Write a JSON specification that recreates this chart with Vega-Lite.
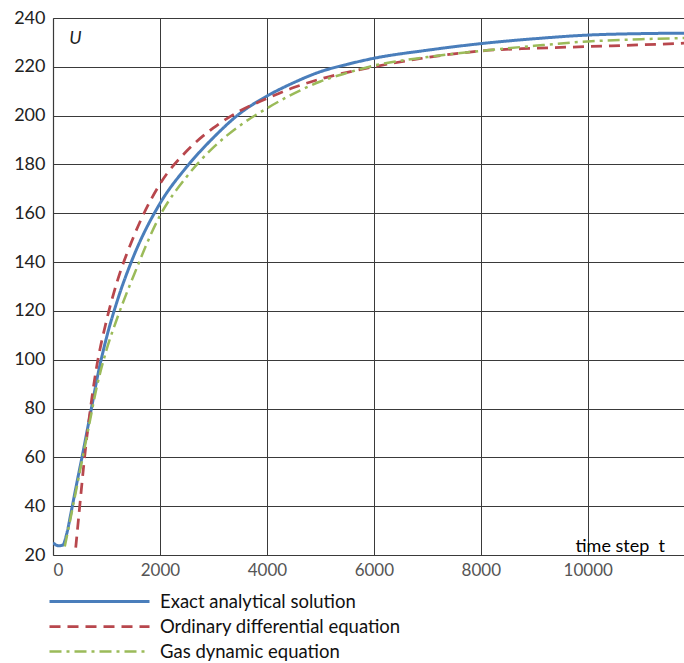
{
  "$schema": "https://vega.github.io/schema/vega-lite/v6.json",
  "width": 631,
  "height": 537,
  "autosize": {"type": "none"},
  "padding": {"left": 53, "top": 18, "right": 0, "bottom": 108},
  "background": "white",
  "config": {
    "view": {"stroke": null},
    "font": "Lato",
    "axis": {"gridColor": "#3a3a3a", "gridOpacity": 1, "gridWidth": 1, "ticks": false, "domainColor": "#3a3a3a", "domainWidth": 1.2},
    "legend": {"padding": 0}
  },
  "datasets": {
    "curves": [
      {"t": 0, "U": 25, "series": "Exact analytical solution"},
      {"t": 100, "U": 23.8, "series": "Exact analytical solution"},
      {"t": 180, "U": 24, "series": "Exact analytical solution"},
      {"t": 260, "U": 29, "series": "Exact analytical solution"},
      {"t": 343, "U": 38, "series": "Exact analytical solution"},
      {"t": 450, "U": 50, "series": "Exact analytical solution"},
      {"t": 560, "U": 62, "series": "Exact analytical solution"},
      {"t": 700, "U": 78, "series": "Exact analytical solution"},
      {"t": 850, "U": 95, "series": "Exact analytical solution"},
      {"t": 1000, "U": 109, "series": "Exact analytical solution"},
      {"t": 1200, "U": 124, "series": "Exact analytical solution"},
      {"t": 1500, "U": 142, "series": "Exact analytical solution"},
      {"t": 2000, "U": 164, "series": "Exact analytical solution"},
      {"t": 2500, "U": 179, "series": "Exact analytical solution"},
      {"t": 3000, "U": 191, "series": "Exact analytical solution"},
      {"t": 3500, "U": 201, "series": "Exact analytical solution"},
      {"t": 4000, "U": 208, "series": "Exact analytical solution"},
      {"t": 4500, "U": 213.5, "series": "Exact analytical solution"},
      {"t": 5000, "U": 218, "series": "Exact analytical solution"},
      {"t": 5500, "U": 221, "series": "Exact analytical solution"},
      {"t": 6000, "U": 223.5, "series": "Exact analytical solution"},
      {"t": 7000, "U": 226.8, "series": "Exact analytical solution"},
      {"t": 8000, "U": 229.5, "series": "Exact analytical solution"},
      {"t": 9000, "U": 231.5, "series": "Exact analytical solution"},
      {"t": 10000, "U": 233, "series": "Exact analytical solution"},
      {"t": 11000, "U": 233.6, "series": "Exact analytical solution"},
      {"t": 11800, "U": 233.8, "series": "Exact analytical solution"},

      {"t": 425, "U": 23, "series": "Ordinary differential equation"},
      {"t": 500, "U": 40, "series": "Ordinary differential equation"},
      {"t": 600, "U": 62, "series": "Ordinary differential equation"},
      {"t": 700, "U": 80, "series": "Ordinary differential equation"},
      {"t": 800, "U": 95, "series": "Ordinary differential equation"},
      {"t": 1000, "U": 116, "series": "Ordinary differential equation"},
      {"t": 1200, "U": 132, "series": "Ordinary differential equation"},
      {"t": 1500, "U": 150, "series": "Ordinary differential equation"},
      {"t": 2000, "U": 172, "series": "Ordinary differential equation"},
      {"t": 2500, "U": 185.5, "series": "Ordinary differential equation"},
      {"t": 3000, "U": 195, "series": "Ordinary differential equation"},
      {"t": 3500, "U": 202, "series": "Ordinary differential equation"},
      {"t": 4000, "U": 207, "series": "Ordinary differential equation"},
      {"t": 4500, "U": 211.5, "series": "Ordinary differential equation"},
      {"t": 5000, "U": 215, "series": "Ordinary differential equation"},
      {"t": 6000, "U": 220, "series": "Ordinary differential equation"},
      {"t": 7000, "U": 223.8, "series": "Ordinary differential equation"},
      {"t": 8000, "U": 226.5, "series": "Ordinary differential equation"},
      {"t": 9000, "U": 227.6, "series": "Ordinary differential equation"},
      {"t": 10000, "U": 228.3, "series": "Ordinary differential equation"},
      {"t": 11000, "U": 229, "series": "Ordinary differential equation"},
      {"t": 11800, "U": 229.7, "series": "Ordinary differential equation"},

      {"t": 220, "U": 23.5, "series": "Gas dynamic equation"},
      {"t": 300, "U": 32, "series": "Gas dynamic equation"},
      {"t": 400, "U": 43, "series": "Gas dynamic equation"},
      {"t": 500, "U": 54, "series": "Gas dynamic equation"},
      {"t": 600, "U": 65, "series": "Gas dynamic equation"},
      {"t": 700, "U": 76, "series": "Gas dynamic equation"},
      {"t": 800, "U": 87, "series": "Gas dynamic equation"},
      {"t": 1000, "U": 104, "series": "Gas dynamic equation"},
      {"t": 1200, "U": 117, "series": "Gas dynamic equation"},
      {"t": 1500, "U": 134, "series": "Gas dynamic equation"},
      {"t": 2000, "U": 159, "series": "Gas dynamic equation"},
      {"t": 2500, "U": 175, "series": "Gas dynamic equation"},
      {"t": 3000, "U": 187, "series": "Gas dynamic equation"},
      {"t": 3500, "U": 196, "series": "Gas dynamic equation"},
      {"t": 4000, "U": 203, "series": "Gas dynamic equation"},
      {"t": 4500, "U": 209, "series": "Gas dynamic equation"},
      {"t": 5000, "U": 214, "series": "Gas dynamic equation"},
      {"t": 5500, "U": 217.5, "series": "Gas dynamic equation"},
      {"t": 6000, "U": 220.5, "series": "Gas dynamic equation"},
      {"t": 7000, "U": 224, "series": "Gas dynamic equation"},
      {"t": 8000, "U": 226.5, "series": "Gas dynamic equation"},
      {"t": 9000, "U": 228.6, "series": "Gas dynamic equation"},
      {"t": 10000, "U": 230.4, "series": "Gas dynamic equation"},
      {"t": 11000, "U": 231.3, "series": "Gas dynamic equation"},
      {"t": 11800, "U": 231.8, "series": "Gas dynamic equation"}
    ]
  },
  "data": {"name": "curves"},
  "mark": {"type": "line", "interpolate": "monotone", "clip": true},
  "encoding": {
    "x": {
      "field": "t", "type": "quantitative",
      "scale": {"domain": [0, 11800], "nice": false},
      "axis": {
        "values": [0, 2000, 4000, 6000, 8000, 10000],
        "format": "d",
        "labelFontSize": 17, "labelColor": "#555", "labelPadding": 7,
        "domain": false,
        "title": "time step\u00a0\u00a0t", "titleFontSize": 18, "titleFontWeight": "normal", "titleColor": "#000",
        "titleAlign": "left", "titleBaseline": "alphabetic", "titleX": 522, "titleY": -4
      }
    },
    "y": {
      "field": "U", "type": "quantitative",
      "scale": {"domain": [20, 240], "nice": false, "zero": false},
      "axis": {
        "values": [20, 40, 60, 80, 100, 120, 140, 160, 180, 200, 220, 240],
        "labelFontSize": 18, "labelColor": "#222", "labelPadding": 8,
        "title": "U", "titleAngle": 0, "titleFontSize": 18, "titleFontStyle": "italic", "titleFontWeight": "normal",
        "titleColor": "#222", "titleAlign": "center", "titleBaseline": "alphabetic", "titleX": 22, "titleY": 25
      }
    },
    "color": {
      "field": "series", "type": "nominal",
      "scale": {
        "domain": ["Exact analytical solution", "Ordinary differential equation", "Gas dynamic equation"],
        "range": ["#4a7ebb", "#b8474d", "#9bbb59"]
      },
      "legend": {
        "orient": "none", "legendX": 35, "legendY": 572, "title": null,
        "symbolType": "M-5,0H5", "symbolSize": 400, "symbolStrokeWidth": 3,
        "labelFontSize": 18.5, "labelColor": "#111", "labelOffset": 49, "labelLimit": 500, "rowPadding": 4
      }
    },
    "strokeDash": {
      "field": "series", "type": "nominal",
      "scale": {
        "domain": ["Exact analytical solution", "Ordinary differential equation", "Gas dynamic equation"],
        "range": [[1, 0], [11, 7], [12, 5, 3, 5]]
      },
      "legend": null
    },
    "strokeWidth": {
      "field": "series", "type": "nominal",
      "scale": {
        "domain": ["Exact analytical solution", "Ordinary differential equation", "Gas dynamic equation"],
        "range": [3, 2.5, 3.2]
      },
      "legend": null
    },
    "order": {"field": "t", "type": "quantitative"}
  }
}
